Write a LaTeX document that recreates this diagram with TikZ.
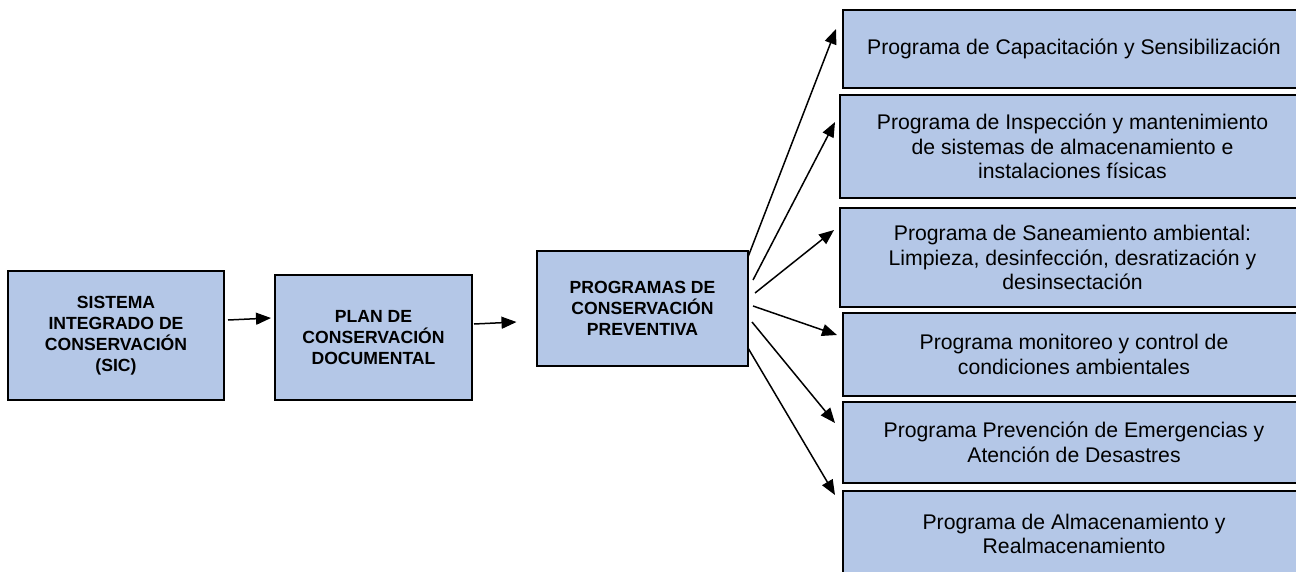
\documentclass[tikz,border=0pt]{standalone}
\usepackage{fontspec}
\setmainfont{Liberation Sans}
\usetikzlibrary{arrows.meta}
\definecolor{boxblue}{HTML}{B4C7E7}
\begin{document}
\begin{tikzpicture}[x=1pt,y=-1pt,
  box/.style={draw=black, line width=2pt, fill=boxblue, inner sep=0pt, align=center},
  boldtext/.style={font=\fontsize{17.6}{21}\selectfont\bfseries},
  plaintext/.style={font=\fontsize{21.2}{24.5}\selectfont},
  arr/.style={line width=1.5pt, -{Triangle[length=15pt,width=12pt]}}]
\useasboundingbox (0,0) rectangle (1296,571);
\fill[white] (0,0) rectangle (1296,571);
% left chain
\node[box,boldtext,minimum width=216pt,minimum height=129pt] (sic) at (116,335.5) {SISTEMA\\INTEGRADO DE\\CONSERVACIÓN\\(SIC)};
\node[box,boldtext,minimum width=197pt,minimum height=125pt] (plan) at (373.5,337.5) {PLAN DE\\CONSERVACIÓN\\DOCUMENTAL};
\node[box,boldtext,minimum width=211pt,minimum height=115pt] (prog) at (642.5,308.5) {PROGRAMAS DE\\CONSERVACIÓN\\PREVENTIVA};
% right column
\node[box,plaintext,minimum width=462pt,minimum height=78pt] (pa) at (1074,49) {Programa de Capacitación y Sensibilización};
\node[box,plaintext,minimum width=465pt,minimum height=103pt] (pb) at (1072.5,146.5) {Programa de Inspección y mantenimiento\\de sistemas de almacenamiento e\\instalaciones físicas};
\node[box,plaintext,minimum width=465pt,minimum height=99pt] (pc) at (1072.5,257.5) {Programa de Saneamiento ambiental:\\Limpieza, desinfección, desratización y\\desinsectación};
\node[box,plaintext,minimum width=462pt,minimum height=83pt] (pd) at (1074,354.5) {Programa monitoreo y control de\\condiciones ambientales};
\node[box,plaintext,minimum width=462pt,minimum height=81pt] (pe) at (1074,442.5) {Programa Prevención de Emergencias y\\Atención de Desastres};
\node[box,plaintext,minimum width=462pt,minimum height=86pt] (pf) at (1074,534) {Programa de Almacenamiento y\\Realmacenamiento};
% connector end points
\coordinate (a1s) at ([shift={(3,-15.5)}]sic.east);
\coordinate (a1e) at ([shift={(-3,-19.5)}]plan.west);
\coordinate (a2s) at ([shift={(1,-13.5)}]plan.east);
\coordinate (a2e) at ([shift={(-19.5,13.5)}]prog.west);
\coordinate (s1) at (748,257);  \coordinate (t1) at (836,29);
\coordinate (s2) at (753,280);  \coordinate (t2) at (835,122);
\coordinate (s3) at (755,293);  \coordinate (t3) at (834,230);
\coordinate (s4) at (753,306);  \coordinate (t4) at (837,335);
\coordinate (s5) at (752,322);  \coordinate (t5) at (835,423);
\coordinate (s6) at (748,348);  \coordinate (t6) at (835,495);
\draw[arr] (a1s) -- (a1e);
\draw[arr] (a2s) -- (a2e);
\draw[arr] (s1) -- (t1);
\draw[arr] (s2) -- (t2);
\draw[arr] (s3) -- (t3);
\draw[arr] (s4) -- (t4);
\draw[arr] (s5) -- (t5);
\draw[arr] (s6) -- (t6);
\end{tikzpicture}
\end{document}
